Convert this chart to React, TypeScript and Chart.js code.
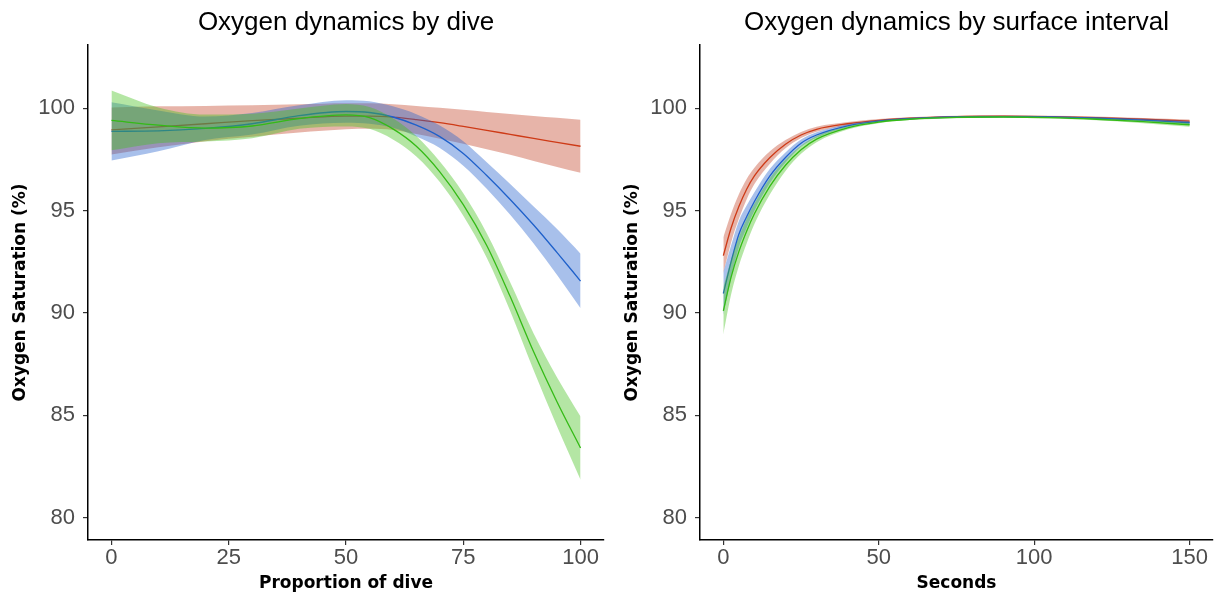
import React, { useEffect, useRef } from "react";
import { Chart, registerables } from "chart.js";

Chart.register(...registerables);

// ---------- data: left panel (proportion of dive) ----------
const xDive = [0, 10, 20, 30, 40, 50, 55, 60, 65, 70, 75, 80, 85, 90, 95, 100];
const diveRed = [98.95, 99.1, 99.25, 99.4, 99.52, 99.62, 99.62, 99.57, 99.45, 99.3, 99.12, 98.93, 98.73, 98.53, 98.34, 98.15];
const diveRedUpper = [100.05, 100.1, 100.12, 100.15, 100.2, 100.25, 100.25, 100.2, 100.12, 100.03, 99.93, 99.83, 99.73, 99.63, 99.54, 99.45];
const diveRedLower = [97.75, 98.1, 98.4, 98.62, 98.82, 98.98, 99.0, 98.95, 98.75, 98.52, 98.27, 98.0, 97.73, 97.43, 97.14, 96.85];
const diveBlue = [98.88, 98.9, 99.02, 99.25, 99.65, 99.85, 99.8, 99.58, 99.18, 98.62, 97.8, 96.72, 95.55, 94.3, 92.95, 91.56];
const diveBlueUpper = [100.3, 99.9, 99.6, 99.78, 100.15, 100.4, 100.35, 100.1, 99.72, 99.17, 98.4, 97.37, 96.3, 95.2, 94.1, 92.9];
const diveBlueLower = [97.45, 97.9, 98.45, 98.72, 99.15, 99.3, 99.25, 99.05, 98.63, 98.07, 97.2, 96.07, 94.8, 93.4, 91.85, 90.23];
const diveGreen = [99.41, 99.18, 99.04, 99.14, 99.5, 99.68, 99.55, 99.0, 98.15, 96.9, 95.3, 93.3, 90.8, 88.1, 85.65, 83.4];
const diveGreenUpper = [100.88, 100.05, 99.7, 99.74, 100.0, 100.22, 100.07, 99.52, 98.65, 97.4, 95.85, 93.9, 91.5, 89.0, 86.85, 84.94];
const diveGreenLower = [97.95, 98.3, 98.38, 98.54, 99.0, 99.12, 99.0, 98.48, 97.65, 96.4, 94.75, 92.7, 90.1, 87.2, 84.45, 81.85];

// ---------- data: right panel (surface interval, seconds) ----------
const xSec = [0, 2.5, 5, 7.5, 10, 15, 20, 25, 30, 40, 50, 60, 75, 90, 105, 120, 135, 150];
const secRed = [92.8, 94.15, 95.2, 96.05, 96.7, 97.6, 98.25, 98.7, 98.98, 99.25, 99.42, 99.52, 99.6, 99.62, 99.6, 99.55, 99.47, 99.38];
const secRedUpper = [93.7, 94.85, 95.8, 96.55, 97.1, 97.9, 98.45, 98.85, 99.1, 99.33, 99.48, 99.57, 99.64, 99.66, 99.64, 99.6, 99.53, 99.46];
const secRedLower = [91.95, 93.45, 94.6, 95.55, 96.3, 97.3, 98.05, 98.55, 98.86, 99.17, 99.36, 99.47, 99.56, 99.58, 99.56, 99.5, 99.41, 99.3];
const secBlue = [90.95, 92.5, 93.85, 94.7, 95.45, 96.7, 97.6, 98.3, 98.7, 99.15, 99.38, 99.5, 99.58, 99.6, 99.58, 99.52, 99.43, 99.3];
const secBlueUpper = [92.0, 93.3, 94.5, 95.25, 95.9, 97.05, 97.85, 98.48, 98.83, 99.23, 99.43, 99.54, 99.62, 99.64, 99.62, 99.57, 99.49, 99.38];
const secBlueLower = [89.9, 91.7, 93.2, 94.15, 95.0, 96.35, 97.35, 98.12, 98.57, 99.07, 99.33, 99.46, 99.54, 99.56, 99.54, 99.47, 99.37, 99.22];
const secGreen = [90.1, 91.75, 93.0, 94.0, 94.85, 96.2, 97.22, 97.98, 98.5, 99.05, 99.33, 99.47, 99.56, 99.58, 99.55, 99.47, 99.35, 99.2];
const secGreenUpper = [91.25, 92.6, 93.7, 94.6, 95.35, 96.6, 97.5, 98.18, 98.65, 99.13, 99.38, 99.51, 99.6, 99.62, 99.59, 99.52, 99.42, 99.3];
const secGreenLower = [88.95, 90.9, 92.3, 93.4, 94.35, 95.8, 96.94, 97.78, 98.35, 98.97, 99.28, 99.43, 99.52, 99.54, 99.51, 99.42, 99.28, 99.1];

// ---------- ticks & labels ----------
const yTicks = [80, 85, 90, 95, 100];
const diveXTicks = [0, 25, 50, 75, 100];
const secXTicks = [0, 50, 100, 150];
const leftTitle = "Oxygen dynamics by dive";
const rightTitle = "Oxygen dynamics by surface interval";
const yTitle = "Oxygen Saturation (%)";
const leftXTitle = "Proportion of dive";
const rightXTitle = "Seconds";

const COLORS = {
  red: { line: "rgb(206,58,22)", fill: "rgba(196,68,40,0.4)" },
  blue: { line: "rgb(30,96,202)", fill: "rgba(38,98,204,0.4)" },
  green: { line: "rgb(52,186,22)", fill: "rgba(68,192,28,0.4)" },
};

const toPts = (xs: number[], ys: number[]) => xs.map((x, i) => ({ x, y: ys[i] }));

function buildDatasets(xs: number[], groups: { key: keyof typeof COLORS; line: number[]; up: number[]; lo: number[] }[]) {
  const ds: any[] = [];
  let order = 100;
  groups.forEach((g) => {
    const c = COLORS[g.key];
    ds.push({
      data: toPts(xs, g.lo),
      borderWidth: 0,
      borderColor: "transparent",
      pointRadius: 0,
      fill: false,
      cubicInterpolationMode: "monotone",
      order: order,
    });
    ds.push({
      data: toPts(xs, g.up),
      borderWidth: 0,
      borderColor: "transparent",
      backgroundColor: c.fill,
      pointRadius: 0,
      fill: "-1",
      cubicInterpolationMode: "monotone",
      order: order,
    });
    order -= 1;
    ds.push({
      data: toPts(xs, g.line),
      borderWidth: 1.3,
      borderColor: c.line,
      pointRadius: 0,
      fill: false,
      cubicInterpolationMode: "monotone",
      order: order,
    });
    order -= 1;
  });
  return ds;
}

const panelTitle = {
  id: "panelTitle",
  afterDraw(chart: any, _args: any, opts: any) {
    const { ctx, chartArea } = chart;
    ctx.save();
    ctx.font = '26px "Liberation Sans", Arial, sans-serif';
    ctx.fillStyle = "#000";
    ctx.textAlign = "center";
    ctx.textBaseline = "middle";
    ctx.fillText(opts.text, (chartArea.left + chartArea.right) / 2, opts.y);
    ctx.restore();
  },
};

function makeConfig(
  xs: number[],
  groups: any[],
  xMin: number,
  xMax: number,
  xTicks: number[],
  title: string,
  xTitle: string,
  padRight: number
): any {
  const tickFont = { family: '"Liberation Sans", Arial, sans-serif', size: 22 };
  const axisTitleFont = { family: '"DejaVu Sans", sans-serif', size: 17, weight: "bold" };
  return {
    type: "line",
    data: { datasets: buildDatasets(xs, groups) },
    plugins: [panelTitle],
    options: {
      animation: false,
      responsive: false,
      events: [],
      layout: { padding: { top: 45, left: 0, right: padRight, bottom: 0 } },
      plugins: {
        legend: { display: false },
        tooltip: { enabled: false },
        title: { display: false },
        panelTitle: { text: title, y: 23 },
      },
      scales: {
        x: {
          type: "linear",
          min: xMin,
          max: xMax,
          afterBuildTicks: (s: any) => {
            s.ticks = xTicks.map((v) => ({ value: v }));
          },
          afterFit: (s: any) => {
            s.height = 55;
          },
          grid: { display: true, drawOnChartArea: false, drawTicks: true, tickLength: 5, color: "#333", lineWidth: 1.2 },
          border: { display: true, color: "#000", width: 1.5 },
          ticks: { color: "#4D4D4D", font: tickFont, padding: 0, maxRotation: 0, autoSkip: false },
          title: { display: true, text: xTitle, color: "#000", font: axisTitleFont, padding: { top: 0, bottom: 1 } },
        },
        y: {
          type: "linear",
          min: 78.9,
          max: 103.1,
          afterBuildTicks: (s: any) => {
            s.ticks = yTicks.map((v) => ({ value: v }));
          },
          afterFit: (s: any) => {
            s.width = 88;
          },
          grid: { display: true, drawOnChartArea: false, drawTicks: true, tickLength: 5, color: "#333", lineWidth: 1.2 },
          border: { display: true, color: "#000", width: 1.5 },
          ticks: { color: "#4D4D4D", font: tickFont, padding: 8 },
          title: { display: true, text: yTitle, color: "#000", font: axisTitleFont, padding: { top: 10, bottom: 0 } },
        },
      },
    },
  };
}

function Panel(props: { cfg: () => any; left: number; width: number }) {
  const ref = useRef<HTMLCanvasElement | null>(null);
  useEffect(() => {
    if (!ref.current) return;
    const chart = new Chart(ref.current, props.cfg());
    return () => chart.destroy();
  }, []);
  return (
    <canvas
      ref={ref}
      width={props.width}
      height={595}
      style={{ position: "absolute", left: props.left, top: 0, width: props.width, height: 595 }}
    />
  );
}

export default function App() {
  useEffect(() => {
    document.body.style.margin = "0";
    document.body.style.background = "#fff";
  }, []);
  const leftGroups = [
    { key: "red", line: diveRed, up: diveRedUpper, lo: diveRedLower },
    { key: "blue", line: diveBlue, up: diveBlueUpper, lo: diveBlueLower },
    { key: "green", line: diveGreen, up: diveGreenUpper, lo: diveGreenLower },
  ];
  const rightGroups = [
    { key: "red", line: secRed, up: secRedUpper, lo: secRedLower },
    { key: "blue", line: secBlue, up: secBlueUpper, lo: secBlueLower },
    { key: "green", line: secGreen, up: secGreenUpper, lo: secGreenLower },
  ];
  return (
    <div style={{ position: "relative", width: 1215, height: 595, background: "#fff" }}>
      <Panel
        left={0}
        width={610}
        cfg={() => makeConfig(xDive, leftGroups, -5, 105, diveXTicks, leftTitle, leftXTitle, 6)}
      />
      <Panel
        left={612}
        width={603}
        cfg={() => makeConfig(xSec, rightGroups, -7.5, 157.5, secXTicks, rightTitle, rightXTitle, 2)}
      />
    </div>
  );
}
